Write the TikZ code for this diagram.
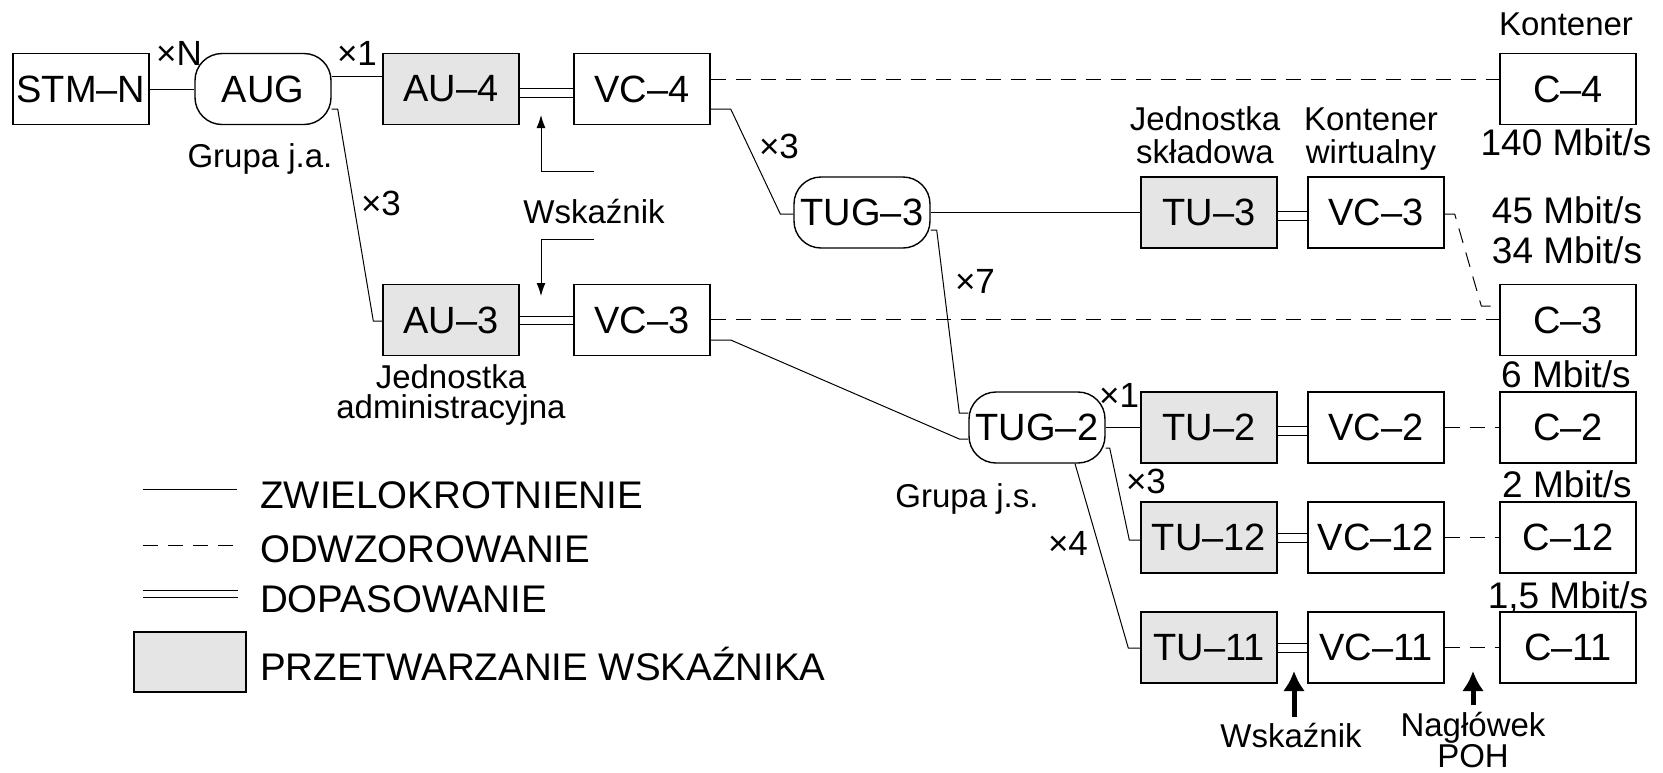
\documentclass[tikz,border=0pt]{standalone}
\usepackage{fontspec}
\setmainfont{Liberation Sans}
\usetikzlibrary{arrows.meta,calc}
\definecolor{pgray}{RGB}{229,229,229}

\begin{document}
\begin{tikzpicture}[x=1pt,y=-1pt,
  blk/.style={draw,line width=1.4pt,minimum width=136pt,minimum height=71pt,inner sep=0pt,
    font=\fontsize{38}{40}\selectfont},
  ptr/.style={blk,fill=pgray},
  grp/.style={blk,rounded corners=27pt},
  conn/.style={line width=1pt},
  mapl/.style={line width=1pt,dash pattern=on 15pt off 10pt},
  adapt/.style={line width=1pt},
  lab/.style={font=\fontsize{33}{36}\selectfont,inner sep=0pt,anchor=base},
  rate/.style={font=\fontsize{37}{40}\selectfont,inner sep=0pt,anchor=base},
  mult/.style={font=\fontsize{35}{40}\selectfont,inner sep=0pt,anchor=base},
  leg/.style={font=\fontsize{38.5}{40}\selectfont,inner sep=0pt,anchor=base west},
  tip/.style={-{Latex[length=13pt,width=9pt]}},
  bigtip/.style={line width=5pt,-{Latex[length=20pt,width=22pt]}},
]
\useasboundingbox (0,0) rectangle (1663,772);

% ---------- blocks ----------
\node[blk] (stm)  at (81,89)    {STM–N};
\node[grp] (aug)  at (263,89)   {AUG};
\node[ptr] (au4)  at (451,89)   {AU–4};
\node[blk] (vc4)  at (642,89)   {VC–4};
\node[blk] (c4)   at (1568,89)  {C–4};

\node[grp] (tug3) at (862,212.5)  {TUG–3};
\node[ptr] (tu3)  at (1209,212.5) {TU–3};
\node[blk] (vc3r) at (1376,212.5) {VC–3};

\node[ptr] (au3)  at (451,320)  {AU–3};
\node[blk] (vc3l) at (642,320)  {VC–3};
\node[blk] (c3)   at (1568,320) {C–3};

\node[grp] (tug2) at (1037,427.5) {TUG–2};
\node[ptr] (tu2)  at (1209,427.5) {TU–2};
\node[blk] (vc2)  at (1376,427.5) {VC–2};
\node[blk] (c2)   at (1568,427.5) {C–2};

\node[ptr] (tu12) at (1209,537.5) {TU–12};
\node[blk] (vc12) at (1376,537.5) {VC–12};
\node[blk] (c12)  at (1568,537.5) {C–12};

\node[ptr] (tu11) at (1209,647.5) {TU–11};
\node[blk] (vc11) at (1376,647.5) {VC–11};
\node[blk] (c11)  at (1568,647.5) {C–11};

% ---------- multiplexing ----------
\draw[conn] (stm) -- (aug);
\draw[conn] ([yshift=13pt]aug.east) -- ([yshift=13pt]au4.west);
\draw[conn] ([yshift=-20pt]aug.east) -- ++(6,0) -- ([xshift=-9pt,yshift=-1pt]au3.west) -- ([yshift=-1pt]au3.west);
\draw[conn] ([yshift=-20pt]vc4.east) -- ++(20,0) -- ([xshift=-13pt,yshift=-1.5pt]tug3.west) -- ([yshift=-1.5pt]tug3.west);
\draw[conn] (tug3) -- (tu3);
\draw[conn] ([yshift=-17.5pt]tug3.east) -- ++(6,0) -- ([xshift=-9pt,yshift=14.5pt]tug2.west) -- ([yshift=14.5pt]tug2.west);
\draw[conn] ([yshift=-20pt]vc3l.east) -- ++(20,0) -- ([xshift=-9pt,yshift=-11.5pt]tug2.west) -- ([yshift=-11.5pt]tug2.west);
\draw[conn] (tug2) -- (tu2);
\draw[conn] ([yshift=-20.5pt]tug2.east) -- ++(4,0) -- ([xshift=-11pt,yshift=-2.5pt]tu12.west) -- ([yshift=-2.5pt]tu12.west);
\draw[conn] ([xshift=38pt]tug2.south) -- ([xshift=-12pt,yshift=-0.5pt]tu11.west) -- ([yshift=-0.5pt]tu11.west);

% ---------- adaptation (double lines) ----------
\foreach \a/\b/\u/\l in {au4/vc4/1/-8, tu3/vc3r/1.5/-7.5, au3/vc3l/4/-4,
                         tu2/vc2/1.5/-7.5, tu12/vc12/4.5/-5, tu11/vc11/4/-5}{
  \draw[adapt] ([yshift=\u pt]\a.east) -- ([yshift=\u pt]\b.west);
  \draw[adapt] ([yshift=\l pt]\a.east) -- ([yshift=\l pt]\b.west);
}

% ---------- mapping ----------
\draw[mapl] ([yshift=10pt]vc4.east) -- ([yshift=10pt]c4.west);
\draw[mapl] ([yshift=1pt]vc3l.east) -- ([yshift=1pt]c3.west);
\draw[mapl] ([yshift=-1.5pt]vc3r.east) -- ++(10,0) -- ([xshift=-18pt,yshift=14pt]c3.west) -- ([yshift=14pt]c3.west);
\draw[mapl] (vc2) -- (c2);
\draw[mapl] (vc12) -- (c12);
\draw[mapl] (vc11) -- (c11);

% ---------- pointer callouts ----------
\node[lab] (wskA) at (594,223) {Wskaźnik};
\coordinate (wA1) at (594,171);
\coordinate (wA2) at (594,239);
\coordinate (tipA1) at (541,115);
\coordinate (tipA2) at (541,296);
\draw[conn,tip] (wA1) -| (tipA1);
\draw[conn,tip] (wA2) -| (tipA2);

\node[lab] (wskB) at (1291,747) {Wskaźnik};
\node[inner sep=0pt,anchor=north,align=center,text depth=0pt,
  font=\fontsize{33}{28}\selectfont] (nagl) at (1473,712) {Nagłówek\\POH};
\coordinate (pb1) at (1294,717);
\coordinate (pt1) at (1294,671);
\coordinate (pb2) at (1473,705);
\coordinate (pt2) at (1473,671);
\draw[bigtip] (pb1) -- (pt1);
\draw[bigtip] (pb2) -- (pt2);

% ---------- multiplicities ----------
\node[mult] at (179,65)  {×N};
\node[mult] at (357,65)  {×1};
\node[mult] at (381,215) {×3};
\node[mult] at (779,158) {×3};
\node[mult] at (975,293) {×7};
\node[mult] at (1119,407) {×1};
\node[mult] at (1146,493) {×3};
\node[mult] at (1068,555) {×4};

% ---------- descriptive labels ----------
\node[lab] at (260,167)  {Grupa j.a.};
\node[lab] at (967,507)  {Grupa j.s.};
\node[lab] at (451,388)  {Jednostka};
\node[lab] at (451,418)  {administracyjna};
\node[lab] at (1205,130) {Jednostka};
\node[lab] at (1205,163) {składowa};
\node[lab] at (1371,130) {Kontener};
\node[lab] at (1371,163) {wirtualny};
\node[lab] at (1566,35)  {Kontener};

% ---------- bit rates ----------
\node[rate] at (1566,155) {140 Mbit/s};
\node[rate] at (1567,223) {45 Mbit/s};
\node[rate] at (1567,263) {34 Mbit/s};
\node[rate] at (1566,387) {6 Mbit/s};
\node[rate] at (1567,497) {2 Mbit/s};
\node[rate] at (1568,608) {1,5 Mbit/s};

% ---------- legend ----------
\coordinate (lgA1) at (143,489); \coordinate (lgA2) at (237,489);
\coordinate (lgB1) at (143,545); \coordinate (lgB2) at (233,545);
\coordinate (lgC1) at (143,590); \coordinate (lgC2) at (238,590);
\coordinate (lgD1) at (143,597); \coordinate (lgD2) at (238,597);
\draw[conn] (lgA1) -- (lgA2);
\draw[mapl] (lgB1) -- (lgB2);
\draw[adapt] (lgC1) -- (lgC2);
\draw[adapt] (lgD1) -- (lgD2);
\node[draw,fill=pgray,line width=1.4pt,minimum width=112pt,minimum height=60pt,inner sep=0pt] (lgbox) at (190,662) {};
\node[leg] at (260,508) {ZWIELOKROTNIENIE};
\node[leg] at (260,562) {ODWZOROWANIE};
\node[leg] at (260,612) {DOPASOWANIE};
\node[leg] at (260,680) {PRZETWARZANIE WSKAŹNIKA};
\end{tikzpicture}
\end{document}
